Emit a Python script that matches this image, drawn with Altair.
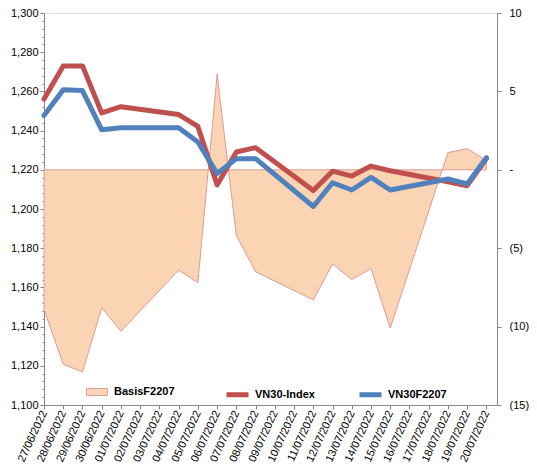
import altair as alt
import pandas as pd

# ---- data ----
dates = ["2022-06-27", "2022-06-28", "2022-06-29", "2022-06-30", "2022-07-01",
         "2022-07-04", "2022-07-05", "2022-07-06", "2022-07-07", "2022-07-08",
         "2022-07-11", "2022-07-12", "2022-07-13", "2022-07-14", "2022-07-15",
         "2022-07-18", "2022-07-19", "2022-07-20"]
vn30_index = [1256.1, 1273.0, 1273.0, 1249.0, 1252.2, 1248.2, 1242.1, 1212.3, 1229.1,
              1231.3, 1209.4, 1219.3, 1216.8, 1221.9, 1219.5, 1213.9, 1211.9, 1225.7]
vn30f2207 = [1247.7, 1260.9, 1260.4, 1240.4, 1241.4, 1241.4, 1234.2, 1218.1, 1225.7,
             1225.7, 1201.3, 1213.4, 1209.7, 1216.1, 1209.7, 1215.3, 1212.8, 1226.2]
basis = [-8.9, -12.4, -12.9, -8.8, -10.3, -6.4, -7.2, 6.1, -4.2,
         -6.5, -8.3, -6.0, -7.0, -6.3, -10.1, 1.1, 1.35, 0.6]
tick_labels = ["27/06/2022", "28/06/2022", "29/06/2022", "30/06/2022", "01/07/2022",
               "02/07/2022", "03/07/2022", "04/07/2022", "05/07/2022", "06/07/2022",
               "07/07/2022", "08/07/2022", "09/07/2022", "10/07/2022", "11/07/2022",
               "12/07/2022", "13/07/2022", "14/07/2022", "15/07/2022", "16/07/2022",
               "17/07/2022", "18/07/2022", "19/07/2022", "20/07/2022"]
series_names = ["VN30-Index", "VN30F2207"]
basis_name = "BasisF2207"

# colours
RED = "#C0504D"
BLUE = "#4F81BD"
PEACH = "#FBD4B4"
PINK = "#DE9A98"
GREY = "#868686"
FONT = "Liberation Sans"

start = pd.Timestamp(dates[0])
day = [(pd.Timestamp(d) - start).days for d in dates]

df_basis = pd.DataFrame({"day": day, "basis": basis, "series": basis_name})
df_lines = pd.concat([
    pd.DataFrame({"day": day, "value": vn30_index, "series": series_names[0]}),
    pd.DataFrame({"day": day, "value": vn30f2207, "series": series_names[1]}),
])

labels_js = "[" + ",".join("'" + t + "'" for t in tick_labels) + "]"

x_enc = alt.X(
    "day:Q",
    scale=alt.Scale(domain=[0, 23.55], nice=False, zero=False),
    axis=alt.Axis(
        values=list(range(len(tick_labels))),
        labelExpr=labels_js + "[datum.value]",
        labelAngle=295, labelAlign="right", labelBaseline="middle",
        title=None, grid=False, tickSize=4, labelPadding=2,
        domainColor=GREY, tickColor=GREY, labelColor="#000000",
        labelFont=FONT, labelFontSize=11, labelOverlap=False,
    ),
)

area = alt.Chart(df_basis).mark_area(
    fill=PEACH, stroke=PINK, strokeWidth=1, interpolate="linear"
).encode(
    x=x_enc,
    y=alt.Y(
        "basis:Q",
        scale=alt.Scale(domain=[-15, 10], nice=False, zero=False),
        axis=alt.Axis(
            orient="right", values=[-15, -10, -5, 0, 5, 10], title=None, grid=False,
            labelExpr="datum.value == 0 ? '-' : (datum.value < 0 ? '(' + format(-datum.value, 'd') + ')' : format(datum.value, 'd'))",
            tickSize=4, labelPadding=8, labelAlign="left",
            domainColor=GREY, tickColor=GREY, labelColor="#000000",
            labelFont=FONT, labelFontSize=11,
        ),
    ),
    y2=alt.datum(0),
    fill=alt.Fill(
        "series:N",
        scale=alt.Scale(domain=[basis_name], range=[PEACH]),
        legend=alt.Legend(
            orient="none", legendX=42, legendY=368, title=None, padding=0,
            symbolType="M-1,-0.33L1,-0.33L1,0.33L-1,0.33Z", symbolSize=441,
            symbolStrokeColor=PINK, symbolStrokeWidth=1,
            labelFont=FONT, labelFontSize=11, labelFontWeight="bold",
            labelColor="#000000", labelOffset=6,
        ),
    ),
)

left_scale = alt.Scale(domain=[1100, 1300], nice=False, zero=False)

lines = alt.Chart(df_lines).mark_line(
    strokeWidth=5, strokeJoin="round", strokeCap="round"
).encode(
    x=x_enc,
    y=alt.Y(
        "value:Q", scale=left_scale,
        axis=alt.Axis(
            orient="left", values=list(range(1100, 1301, 20)), format=",.0f",
            title=None, grid=False, tickSize=4, labelPadding=2,
            domainColor=GREY, tickColor=GREY, labelColor="#000000",
            labelFont=FONT, labelFontSize=11,
        ),
    ),
    stroke=alt.Stroke(
        "series:N",
        scale=alt.Scale(domain=series_names, range=[RED, BLUE]),
        legend=alt.Legend(
            orient="none", legendX=180, legendY=368, title=None, padding=0,
            direction="horizontal", symbolType="stroke", symbolSize=484,
            symbolStrokeWidth=5, columnPadding=34,
            labelFont=FONT, labelFontSize=11, labelFontWeight="bold",
            labelColor="#000000", labelOffset=4,
        ),
    ),
    detail="series:N",
)

minor = alt.Chart(df_lines).mark_line(opacity=0).encode(
    x=x_enc,
    y=alt.Y(
        "value:Q", scale=left_scale,
        axis=alt.Axis(
            orient="left",
            values=[v for v in range(1100, 1301, 4) if v % 20 != 0],
            labels=False, domain=False, title=None, grid=False,
            tickSize=2, tickColor=GREY,
        ),
    ),
    detail="series:N",
)

left = alt.layer(lines, minor).resolve_axis(y="independent")

chart = alt.layer(area, left).resolve_scale(
    y="independent", fill="independent", stroke="independent"
).properties(
    width=453, height=392,
    autosize=alt.AutoSizeParams(type="none"),
    padding={"left": 36, "top": 5, "right": 32, "bottom": 60},
).configure_view(stroke=None).configure(background="#ffffff")

chart.save("out.html", embed_options={"renderer": "svg", "actions": False})
